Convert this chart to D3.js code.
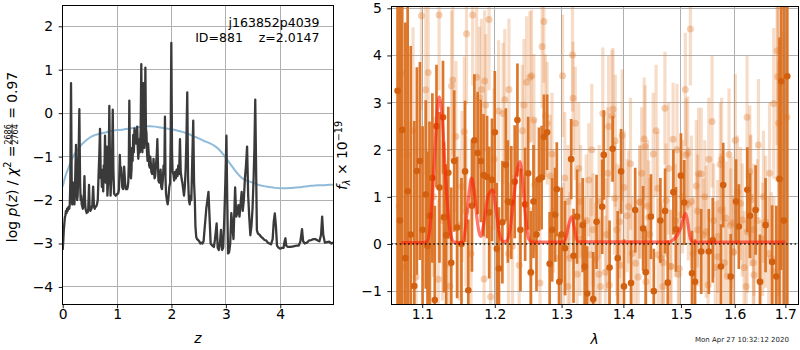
<!DOCTYPE html>
<html><head><meta charset="utf-8">
<script src="https://cdn.jsdelivr.net/npm/d3@7"></script>
<style>body{margin:0;background:#fff}svg{display:block}text{font-family:"DejaVu Sans",sans-serif}</style>
</head><body><svg id="c" width="800" height="350"></svg>
<script>
// ---------- data: left panel (redshift) ----------
const zTicks=[0,1,2,3,4];
const pzTicks=[-4,-3,-2,-1,0,1,2];
const pzZ=[0.00,0.01,0.02,0.03,0.04,0.05,0.06,0.07,0.08,0.09,
0.10,0.11,0.12,0.13,0.14,0.153,0.165,0.175,0.185,0.195,
0.205,0.215,0.225,0.235,0.245,0.255,0.265,0.275,0.29,0.306,
0.32,0.33,0.34,0.35,0.36,0.37,0.38,0.39,0.40,0.41,
0.42,0.43,0.44,0.45,0.46,0.47,0.484,0.495,0.51,0.52,
0.53,0.545,0.56,0.575,0.59,0.60,0.615,0.63,0.645,0.66,
0.672,0.686,0.70,0.71,0.72,0.735,0.745,0.755,0.765,0.778,
0.79,0.80,0.81,0.822,0.835,0.845,0.857,0.87,0.88,0.895,
0.908,0.92,0.932,0.945,0.96,0.975,0.99,1.005,1.02,1.035,
1.05,1.062,1.075,1.085,1.095,1.11,1.122,1.13,1.14,1.15,
1.16,1.172,1.185,1.195,1.205,1.215,1.225,1.235,1.245,1.255,
1.265,1.275,1.285,1.297,1.308,1.32,1.33,1.34,1.35,1.36,
1.37,1.38,1.39,1.40,1.41,1.42,1.433,1.445,1.455,1.465,
1.475,1.482,1.49,1.50,1.51,1.52,1.53,1.54,1.55,1.56,
1.57,1.58,1.59,1.60,1.61,1.62,1.63,1.645,1.66,1.67,
1.68,1.69,1.70,1.715,1.73,1.74,1.75,1.76,1.775,1.79,
1.80,1.812,1.825,1.84,1.855,1.868,1.88,1.89,1.90,1.915,
1.93,1.945,1.96,1.975,1.985,1.997,2.01,2.02,2.035,2.05,
2.065,2.08,2.095,2.11,2.125,2.14,2.156,2.17,2.185,2.20,
2.215,2.23,2.245,2.26,2.275,2.29,2.305,2.32,2.335,2.35,
2.365,2.38,2.40,2.415,2.43,2.44,2.455,2.47,2.49,2.51,
2.53,2.55,2.57,2.59,2.62,2.64,2.68,2.70,2.72,2.75,
2.78,2.80,2.83,2.85,2.87,2.89,2.91,2.93,2.95,2.97,
2.99,3.01,3.025,3.04,3.06,3.08,3.10,3.12,3.14,3.17,
3.19,3.21,3.23,3.25,3.27,3.29,3.31,3.33,3.35,3.37,
3.39,3.41,3.43,3.45,3.47,3.49,3.51,3.525,3.54,3.555,
3.57,3.59,3.62,3.65,3.68,3.71,3.74,3.77,3.80,3.83,
3.86,3.88,3.90,3.92,3.94,3.97,4.00,4.03,4.06,4.08,
4.095,4.11,4.14,4.18,4.22,4.26,4.30,4.34,4.37,4.40,
4.42,4.45,4.49,4.53,4.57,4.61,4.65,4.69,4.72,4.75,
4.77,4.79,4.82,4.86,4.90,4.94,4.975];
const pzLog=[-3.15,-2.95,-2.7,-2.55,-2.4,-2.35,-2.25,-2.3,-2.2,-2.25,
-2.2,-2.15,-2.2,-2.1,-1.6,0.69,-1.5,-2.1,-2.05,-1.6,
-2.0,-2.1,-1.8,-1.2,-0.73,-1.6,-2.0,-1.9,-1.2,0.09,
-1.6,-2.0,-1.9,-2.1,-2.15,-2.2,-2.15,-1.9,-1.45,-2.0,
-2.2,-2.25,-2.3,-2.25,-2.28,-2.2,-1.65,-2.2,-2.25,-2.2,
-2.2,-2.1,-1.69,-2.15,-2.2,-2.15,-2.15,-2.1,-2.0,-1.4,
-1.0,-0.36,-1.5,-1.3,-1.7,-1.3,-1.8,-1.2,-1.5,-0.52,
-1.6,-1.2,-0.77,-1.9,-1.6,-1.3,0.17,-1.2,-1.9,-1.5,
-1.0,0.08,-1.3,-1.85,-1.88,-1.9,-1.88,-1.85,-1.85,-1.75,
-0.96,-1.4,-1.25,-1.5,-1.7,-1.75,-1.5,-1.23,-1.45,-1.65,
-1.75,-1.7,-1.75,-1.7,-1.6,-1.2,0.29,-1.0,-1.4,-1.5,
-1.3,-0.8,-1.1,-0.5,-0.9,-0.35,-0.55,-0.45,-0.7,-0.5,
-0.31,-0.8,-1.05,-0.85,-0.6,-0.9,-0.4,1.13,-0.5,-0.9,
-0.3,0.69,-0.6,-0.8,-0.5,1.05,-0.35,-0.46,-0.9,-1.1,
-0.7,-0.9,-1.2,-1.25,-1.0,-1.15,-1.35,-1.4,-1.3,-1.05,
-1.35,-1.5,-1.45,-1.2,-0.95,-0.6,-1.1,-1.55,-1.6,-1.5,
-1.3,-1.7,-1.75,-1.55,-1.2,-1.4,-0.08,-1.5,-1.85,-2.0,
-2.1,-1.95,-1.7,-1.6,-0.6,1.62,-0.9,-1.35,-1.4,-1.55,
-1.35,-1.5,-1.3,-1.45,-1.2,-1.4,-0.6,-1.35,-1.5,-1.6,
-1.75,-1.9,-1.7,-1.3,-0.6,0.48,-1.5,-2.0,-2.1,-1.9,
-2.0,-1.2,-0.17,-1.6,-2.04,-2.6,-2.85,-2.9,-2.92,-2.95,
-3.0,-2.98,-3.0,-2.95,-2.5,-2.2,-1.81,-2.4,-3.0,-3.05,
-3.08,-2.9,-2.54,-3.1,-3.15,-3.0,-2.69,-3.15,-3.1,-2.46,
-1.6,-0.52,-2.0,-3.23,-3.2,-3.0,-2.3,-2.6,-2.9,-1.71,
-2.38,-2.3,-2.12,-2.38,-2.1,-1.81,-2.25,-2.0,-1.5,-1.2,
-0.77,-1.9,-2.4,-2.81,-2.6,-2.2,-1.5,-0.8,0.31,-1.2,
-2.7,-2.77,-2.8,-2.85,-2.88,-2.92,-2.93,-2.98,-3.0,-3.02,
-2.9,-2.5,-2.31,-2.6,-3.05,-3.1,-3.12,-3.1,-3.1,-2.95,
-2.88,-3.05,-3.08,-3.08,-3.07,-3.06,-3.05,-3.05,-2.95,-2.67,
-2.95,-3.0,-2.98,-2.93,-2.92,-2.9,-2.9,-2.93,-2.95,-2.8,
-2.38,-2.8,-2.98,-2.97,-2.96,-3.0,-2.98];
const chiZ=[0,0.05,0.1,0.15,0.2,0.25,0.3,0.35,0.4,0.5,0.6,0.7,0.8,0.9,1.0,1.1,1.2,1.3,1.4,1.5,1.6,1.7,1.8,1.9,2.0,2.1,2.2,2.3,2.4,2.5,2.6,2.7,2.8,2.9,3.0,3.1,3.2,3.3,3.4,3.5,3.6,3.7,3.8,3.9,4.0,4.1,4.2,4.3,4.4,4.5,4.6,4.7,4.8,4.9,4.975];
const chiVal=[-1.69,-1.45,-1.28,-1.12,-0.98,-0.88,-0.8,-0.72,-0.66,-0.56,-0.5,-0.47,-0.44,-0.41,-0.39,-0.38,-0.36,-0.34,-0.32,-0.3,-0.3,-0.31,-0.33,-0.35,-0.37,-0.4,-0.43,-0.47,-0.53,-0.58,-0.64,-0.69,-0.76,-0.87,-1.03,-1.2,-1.37,-1.5,-1.56,-1.6,-1.65,-1.68,-1.7,-1.72,-1.73,-1.73,-1.72,-1.71,-1.7,-1.68,-1.67,-1.66,-1.66,-1.65,-1.65];

// ---------- data: right panel (spectrum) ----------
const lamTicks=[1.1,1.2,1.3,1.4,1.5,1.6,1.7];
const fluxTicks=[-1,0,1,2,3,4,5];
const darkWave=[1.068,1.071,1.074,1.078,1.081,1.085,1.0896,1.093,1.097,1.1005,
1.1047,1.107,1.1097,1.1135,1.1167,1.119,1.123,1.1278,1.129,1.132,
1.135,1.139,1.143,1.147,1.153,1.158,1.1625,1.1676,1.171,1.1756,
1.180,1.184,1.189,1.192,1.196,1.200,1.203,1.206,1.211,1.216,
1.219,1.224,1.229,1.233,1.2375,1.2445,1.249,1.253,1.257,1.2615,
1.2653,1.2693,1.2727,1.2777,1.2816,1.2855,1.290,1.2926,1.2965,1.300,
1.3054,1.3151,1.3188,1.3244,1.3334,1.3367,1.3406,1.3503,1.3557,1.3649,
1.3675,1.377,1.3821,1.3905,1.3962,1.401,1.4129,1.420,1.4335,1.438,
1.447,1.452,1.4635,1.4718,1.4765,1.4865,1.4911,1.500,1.506,1.5201,
1.5256,1.5368,1.551,1.5583,1.5737,1.578,1.5922,1.6025,1.6078,1.6243,
1.6294,1.6405,1.649,1.6602,1.6733,1.6818,1.6882,1.6916,1.697,1.7039];
const darkFlux=[3.25,0.5,2.42,-0.3,1.12,0.2,-0.89,1.55,1.76,0.3,
1.05,-0.04,0.6,1.4,-1.19,2.5,1.2,2.69,0.57,0.19,
1.51,-0.4,1.76,0.35,0.0,1.54,-0.98,0.81,2.2,1.93,
1.76,1.46,1.42,0.67,1.36,2.37,-0.1,-0.52,0.46,1.68,
0.9,0.88,1.32,2.63,0.3,0.84,1.5,-0.6,0.9,0.2,
1.37,1.41,2.27,2.37,-0.42,0.3,0.62,1.16,-0.8,0.2,
-0.09,1.8,-0.25,0.58,0.4,-0.48,-1.05,-1.17,0.47,0.79,
1.89,-0.5,2.02,-0.3,1.54,-0.9,-0.83,0.72,0.33,-0.6,
0.58,-1.0,0.5,0.7,-0.82,1.1,0.31,1.45,0.88,-0.62,
-0.8,-0.16,-0.16,0.08,-0.48,1.25,-0.69,0.9,0.37,1.15,
0.6,0.72,-0.8,0.4,-0.38,-0.69,1.38,3.45,0.5,3.56];
const darkErr=[6,6,5,5,4.5,4,3.5,2.2,2.1,2.2,
2.0,2.0,2.0,1.8,2.0,1.3,1.6,1.2,1.6,1.5,
1.4,1.6,1.5,1.5,1.4,1.5,1.5,1.4,1.4,1.3,
1.3,1.3,1.3,1.4,1.3,1.3,1.4,1.3,1.3,1.2,
1.3,1.2,1.2,1.2,1.3,1.2,1.2,1.3,1.2,1.2,
1.1,1.1,0.9,0.8,1.1,1.1,1.0,1.0,1.0,1.0,
1.0,0.85,1.0,1.0,1.0,1.0,1.0,1.0,1.0,1.0,
0.95,1.0,0.7,1.0,0.9,1.0,0.9,0.9,0.9,0.9,
0.9,0.9,0.9,0.9,0.9,0.9,0.9,0.9,0.9,0.9,
0.9,0.9,0.9,0.9,0.9,0.9,0.9,0.9,0.9,0.9,
0.9,0.95,1.0,1.0,1.2,1.5,3,4,6,8];
const lightWave=[1.070,1.072,1.076,1.080,1.084,1.088,1.092,1.099,1.1047,1.108,
1.1107,1.1150,1.1214,1.1225,1.1270,1.1329,1.1371,1.1394,1.141,1.1454,
1.150,1.1538,1.157,1.1593,1.1600,1.1663,1.1686,1.1742,1.178,1.181,
1.1847,1.1855,1.187,1.1917,1.194,1.199,1.2055,1.212,1.2145,1.2199,
1.2205,1.2258,1.2356,1.2403,1.2427,1.2467,1.2516,1.253,1.254,1.2576,
1.2589,1.2668,1.2700,1.2727,1.2752,1.2777,1.2826,1.2852,1.2875,1.2950,
1.3016,1.3026,1.3100,1.3172,1.3180,1.3216,1.3244,1.3300,1.3360,1.3432,
1.3500,1.3541,1.3600,1.3659,1.3700,1.3756,1.3765,1.3811,1.3827,1.3865,
1.3946,1.4010,1.4088,1.4150,1.4206,1.4280,1.4353,1.4370,1.4383,1.4450,
1.451,1.4589,1.4650,1.4715,1.4735,1.4824,1.486,1.4900,1.497,1.5030,
1.5079,1.5092,1.5123,1.5171,1.522,1.5300,1.5405,1.5497,1.551,1.5600,
1.568,1.5724,1.5737,1.5750,1.5800,1.586,1.5920,1.5982,1.6050,1.6112,
1.6180,1.6238,1.6243,1.6300,1.6373,1.6440,1.6504,1.6602,1.6680,1.6765,
1.6770,1.6833,1.6845,1.6863,1.6865,1.6950,1.703,
1.310,1.329,1.346,1.3594,1.372,1.3854,1.3935,1.4065,1.4277,1.443,
1.4595,1.4688,1.481,1.4952,1.5133,1.5306,1.5435,1.5676,1.583,1.5971,
1.6145,1.636,1.6545,1.6665,1.528,1.532,1.537,1.546,1.594,1.629,
1.631,1.637,1.305,1.313,1.327,1.339,1.348,1.362,1.374,1.389,
1.398,1.412,1.425,1.431,1.441,1.456,1.468,1.478,1.493,1.519,
1.557,1.563,1.589,1.601,1.622,1.646,1.656,1.672];
const lightFlux=[0.8,3.62,-0.5,1.9,0.1,2.4,-0.7,4.84,3.27,3.64,
-0.15,1.0,-0.75,4.86,0.5,-0.43,-0.89,3.35,3.48,2.28,
0.4,1.22,2.38,0.7,4.46,-0.2,4.86,3.54,3.11,3.28,
-0.74,3.46,2.95,4.76,-1.12,1.8,2.82,2.77,3.06,-0.2,
3.28,-0.04,-0.45,2.4,2.95,3.43,3.54,-0.62,3.57,2.63,
1.25,-0.83,4.19,4.72,2.72,2.56,1.44,1.91,0.69,-0.3,
3.57,0.0,-0.9,4.01,3.09,2.56,-0.64,0.9,-0.2,1.36,
0.3,-0.32,0.9,2.77,-0.6,2.49,-0.87,2.72,2.86,2.19,
-0.45,1.2,0.79,-0.2,-0.41,0.9,2.23,2.07,-0.8,0.2,
1.91,1.18,-0.3,2.88,0.93,-0.48,2.22,0.5,-0.52,1.0,
3.28,1.89,1.93,4.56,-0.2,0.7,0.19,-0.87,1.8,0.5,
-0.27,1.69,0.72,1.8,-0.4,-0.69,0.4,-0.16,1.1,0.86,
-0.5,2.69,0.26,1.0,-0.66,0.5,-0.8,0.47,1.5,2.98,
-0.59,4.1,3.55,1.39,2.56,0.5,2.69,
0.9,0.1,-0.23,-0.64,0.2,0.97,0.47,0.6,0.88,0.57,
-0.23,-0.4,-0.47,-0.64,0.85,0.3,1.0,0.16,0.55,-0.18,
0.51,-0.4,0.1,-0.2,1.23,1.49,1.49,0.26,0.45,1.54,
0.93,0.3,1.4,-0.3,1.6,0.5,2.0,-0.9,1.5,0.3,
2.3,1.7,-0.7,1.5,0.8,2.4,-0.9,1.6,2.0,0.9,
2.6,-0.5,1.9,2.2,-0.9,2.1,1.0,-0.3];
const lightErr=[3.5,2.5,3,2.8,2.5,2.2,2.2,2.0,1.8,1.8,
1.8,1.7,1.7,1.6,1.7,1.6,1.6,1.6,1.6,1.6,
1.6,1.6,1.6,1.6,1.5,1.6,1.5,1.5,1.5,1.5,
1.5,1.5,1.5,1.5,1.5,1.5,1.5,1.5,1.5,1.5,
1.5,1.5,1.5,1.4,1.4,1.4,1.4,1.4,1.4,1.4,
1.4,1.4,1.3,1.3,1.3,1.3,1.3,1.3,1.3,1.3,
1.3,1.3,1.3,1.2,1.2,1.2,1.2,1.2,1.2,1.2,
1.2,1.2,1.2,1.4,1.2,1.5,1.2,1.4,1.3,1.4,
1.2,1.2,1.2,1.2,1.2,1.2,1.3,1.3,1.2,1.2,
1.3,1.2,1.2,1.2,1.2,1.2,1.2,1.2,1.2,1.2,
1.2,1.2,1.2,1.2,1.2,1.2,1.2,1.2,1.3,1.2,
1.2,1.3,1.2,1.3,1.2,1.2,1.2,1.2,1.2,1.2,
1.2,1.3,1.3,1.3,1.3,1.3,1.3,1.4,1.5,1.6,
1.6,2.0,2.2,2.5,2.5,4,5,
1.2,1.2,1.2,1.2,1.2,1.2,1.2,1.2,1.2,1.2,
1.2,1.2,1.2,1.2,1.2,1.2,1.2,1.2,1.2,1.2,
1.2,1.2,1.2,1.2,1.4,1.4,1.4,1.4,1.4,1.4,
1.4,1.4,1.4,1.4,1.4,1.4,1.4,1.4,1.4,1.4,
1.4,1.4,1.4,1.4,1.4,1.4,1.4,1.4,1.4,1.4,
1.4,1.4,1.4,1.4,1.4,1.4,1.4,1.4];
const modelWave=[1.073,1.100,1.106,1.110,1.114,1.118,1.1225,1.127,1.131,1.135,1.139,1.143,1.150,1.155,1.159,1.163,1.167,1.171,1.175,1.180,1.185,1.190,1.197,1.202,1.207,1.212,1.217,1.222,1.227,1.232,1.2367,1.241,1.245,1.250,1.255,1.303,1.307,1.312,1.316,1.320,1.325,1.480,1.487,1.494,1.500,1.5045,1.5088,1.513,1.517,1.522,1.700];
const modelFlux=[0.03,0.03,0.05,0.3,1.2,2.3,3.12,2.6,1.5,0.6,0.15,0.04,0.03,0.05,0.4,1.0,1.4,1.1,0.5,0.16,0.5,1.0,1.15,0.7,0.2,0.05,0.06,0.3,0.9,1.5,1.75,1.3,0.6,0.1,0.04,0.04,0.15,0.45,0.58,0.35,0.05,0.04,0.1,0.2,0.35,0.55,0.65,0.4,0.12,0.04,0.04];

// ---------- drawing ----------
const svg=d3.select('#c');
const FS=13.9;
const L={x0:62.7,x1:333.3,y0:5,y1:304.3};
const R={x0:391.3,x1:798,y0:6,y1:304};
const xL=d3.scaleLinear().domain([0,4.975]).range([L.x0,L.x1]);
const yL=d3.scaleLinear().domain([-4.40,2.49]).range([L.y1,L.y0]);
const xR=d3.scaleLog().domain([1.06,1.726]).range([R.x0,R.x1]);
const yR=d3.scaleLinear().domain([-1.273,5.049]).range([R.y1,R.y0]);

const defs=svg.append('defs');
defs.append('clipPath').attr('id','clipL').append('rect').attr('x',L.x0).attr('y',L.y0).attr('width',L.x1-L.x0).attr('height',L.y1-L.y0);
defs.append('clipPath').attr('id','clipR').append('rect').attr('x',R.x0).attr('y',R.y0).attr('width',R.x1-R.x0).attr('height',R.y1-R.y0);

function grid(P,xs,ys,xt,yt){
  const g=svg.append('g').attr('stroke','#b0b0b0').attr('stroke-width',1).attr('shape-rendering','crispEdges');
  g.selectAll('.gx').data(xt).join('line').attr('x1',d=>xs(d)).attr('x2',d=>xs(d)).attr('y1',P.y0).attr('y2',P.y1);
  g.selectAll('.gy').data(yt).join('line').attr('y1',d=>ys(d)).attr('y2',d=>ys(d)).attr('x1',P.x0).attr('x2',P.x1);
}
function axes(P,xs,ys,xt,yt,xfmt,yfmt){
  const ax=svg.append('g').attr('transform',`translate(0,${P.y1})`)
    .call(d3.axisBottom(xs).tickValues(xt).tickFormat(xfmt).tickSize(4).tickPadding(1));
  const ay=svg.append('g').attr('transform',`translate(${P.x0},0)`)
    .call(d3.axisLeft(ys).tickValues(yt).tickFormat(yfmt).tickSize(4).tickPadding(5.5));
  [ax,ay].forEach(a=>{a.select('.domain').remove();a.selectAll('text').attr('font-size',FS).attr('font-family','DejaVu Sans').attr('fill','#000');a.selectAll('line').attr('stroke','#000').attr('stroke-width',0.9);});
  svg.append('rect').attr('x',P.x0).attr('y',P.y0).attr('width',P.x1-P.x0).attr('height',P.y1-P.y0)
    .attr('fill','none').attr('stroke','#000').attr('stroke-width',1).attr('shape-rendering','crispEdges');
}
const minusFmt=d=>(d<0?'\u2212':'')+Math.abs(d);

// left panel
grid(L,xL,yL,zTicks,pzTicks);
const gL=svg.append('g').attr('clip-path','url(#clipL)');
gL.append('path').datum(d3.range(chiZ.length))
  .attr('d',d3.line().x(i=>xL(chiZ[i])).y(i=>yL(chiVal[i])).curve(d3.curveMonotoneX))
  .attr('fill','none').attr('stroke','#8fbbd9').attr('stroke-width',2);
gL.append('path').datum(d3.range(pzZ.length))
  .attr('d',d3.line().x(i=>xL(pzZ[i])).y(i=>yL(pzLog[i])))
  .attr('fill','none').attr('stroke','#3a3a3a').attr('stroke-width',2.3).attr('stroke-linejoin','round');
axes(L,xL,yL,zTicks,pzTicks,d=>d,minusFmt);

svg.append('text').attr('x',319.5).attr('y',27.3).attr('text-anchor','end').attr('font-size',12.5).text('j163852p4039');
svg.append('text').attr('x',319.5).attr('y',41.7).attr('text-anchor','end').attr('font-size',12.5).style('white-space','pre').text('ID=881    z=2.0147');

svg.append('text').attr('x',(L.x0+L.x1)/2).attr('y',343).attr('text-anchor','middle').attr('font-size',FS).attr('font-style','italic').text('z');

// left y label with fraction
(function(){
  const outer=svg.append('g').attr('transform','translate(16.7,157) rotate(-90)');
  const g=outer.append('g');
  const t1=g.append('text').attr('font-size',FS);
  t1.append('tspan').text('log ');
  t1.append('tspan').attr('font-style','italic').text('p');
  t1.append('tspan').text('(');
  t1.append('tspan').attr('font-style','italic').text('z');
  t1.append('tspan').text(') / ');
  t1.append('tspan').attr('font-style','italic').text('\u03c7');
  t1.append('tspan').attr('font-size',9.7).attr('dy',-5.5).text('2');
  t1.append('tspan').attr('dy',5.5).text(' = ');
  const w1=t1.node().getComputedTextLength();
  const fs2=8;
  const num=g.append('text').attr('font-size',fs2).attr('text-anchor','middle').attr('y',-6).text('2686');
  const fw=num.node().getComputedTextLength();
  const cx=w1+1+fw/2;
  num.attr('x',cx);
  g.append('text').attr('font-size',fs2).attr('text-anchor','middle').attr('x',cx).attr('y',0.8).text('2764');
  g.append('line').attr('x1',w1+0.5).attr('x2',w1+fw+1.5).attr('y1',-4.6).attr('y2',-4.6).attr('stroke','#000').attr('stroke-width',0.7);
  const t3=g.append('text').attr('font-size',FS).attr('x',w1+fw+2).style('white-space','pre').text(' = 0.97');
  const W=w1+fw+2+t3.node().getComputedTextLength();
  g.attr('transform',`translate(${-W/2},0)`);
})();

// right panel
grid(R,xR,yR,lamTicks,fluxTicks);
const gR=svg.append('g').attr('clip-path','url(#clipR)');
const li=d3.range(lightWave.length), di=d3.range(darkWave.length);
gR.append('g').selectAll('line').data(li).join('line')
  .attr('x1',i=>xR(lightWave[i])).attr('x2',i=>xR(lightWave[i]))
  .attr('y1',i=>yR(lightFlux[i]-lightErr[i])).attr('y2',i=>yR(lightFlux[i]+lightErr[i]))
  .attr('stroke','#e2792c').attr('stroke-opacity',0.26).attr('stroke-width',3.2);
gR.append('g').selectAll('circle').data(li).join('circle')
  .attr('cx',i=>xR(lightWave[i])).attr('cy',i=>yR(lightFlux[i])).attr('r',3.5)
  .attr('fill','#e0782c').attr('fill-opacity',0.35);
gR.append('g').selectAll('line').data(di).join('line')
  .attr('x1',i=>xR(darkWave[i])).attr('x2',i=>xR(darkWave[i]))
  .attr('y1',i=>yR(darkFlux[i]-darkErr[i])).attr('y2',i=>yR(darkFlux[i]+darkErr[i]))
  .attr('stroke','#da7020').attr('stroke-opacity',0.95).attr('stroke-width',2.7);
gR.append('g').selectAll('circle').data(di).join('circle')
  .attr('cx',i=>xR(darkWave[i])).attr('cy',i=>yR(darkFlux[i])).attr('r',3.3)
  .attr('fill','#d2600e');
gR.append('path').datum(d3.range(modelWave.length))
  .attr('d',d3.line().x(i=>xR(modelWave[i])).y(i=>yR(modelFlux[i])).curve(d3.curveMonotoneX))
  .attr('fill','none').attr('stroke','#ff1a0a').attr('stroke-opacity',0.6).attr('stroke-width',3.2).attr('stroke-linejoin','round');
gR.append('line').attr('x1',R.x0).attr('x2',R.x1).attr('y1',yR(0)).attr('y2',yR(0))
  .attr('stroke','#000').attr('stroke-width',1.6).attr('stroke-dasharray','1.6,2.6').attr('stroke-opacity',0.85);
axes(R,xR,yR,lamTicks,fluxTicks,d3.format('.1f'),minusFmt);

svg.append('text').attr('x',(R.x0+R.x1)/2).attr('y',344).attr('text-anchor','middle').attr('font-size',FS).attr('font-style','italic').text('\u03bb');

(function(){
  const t=svg.append('text').attr('transform','translate(347,155.5) rotate(-90)').attr('text-anchor','middle').attr('font-size',FS);
  t.append('tspan').attr('font-style','italic').text('f');
  t.append('tspan').attr('font-style','italic').attr('font-size',9.7).attr('dy',3).text('\u03bb');
  t.append('tspan').attr('dy',-3).style('white-space','pre').text(' \u00d7 10');
  t.append('tspan').attr('font-size',9.7).attr('dy',-5.5).text('\u221219');
})();

svg.append('text').attr('x',695).attr('y',341.5).attr('font-size',7).attr('fill','#222').style('white-space','pre').text('Mon Apr 27 10:32:12 2020');
</script></body></html>
